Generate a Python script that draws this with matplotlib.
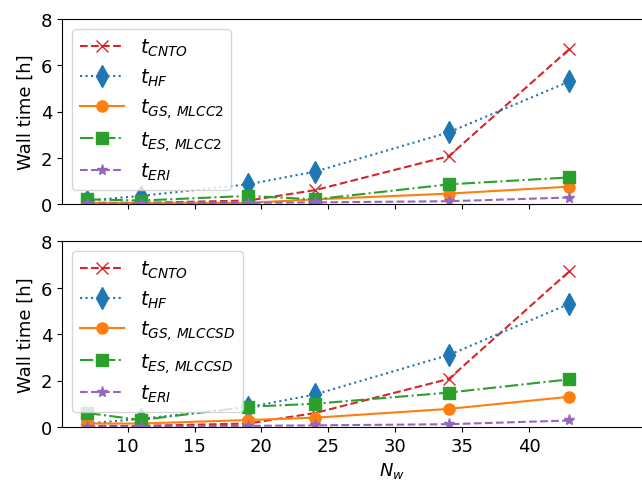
import matplotlib
matplotlib.use('Agg')
import matplotlib.pyplot as plt

# water count on the x axis
n_w = [7, 11, 19, 24, 34, 43]

# wall times [h]
t_cnto = [0.05, 0.05, 0.15, 0.6, 2.07, 6.7]
t_hf = [0.15, 0.35, 0.85, 1.4, 3.1, 5.3]
t_eri = [0.02, 0.02, 0.05, 0.07, 0.12, 0.28]

t_gs_mlcc2 = [0.05, 0.05, 0.05, 0.2, 0.45, 0.75]
t_es_mlcc2 = [0.2, 0.15, 0.35, 0.2, 0.85, 1.15]

t_gs_mlccsd = [0.15, 0.15, 0.3, 0.4, 0.78, 1.3]
t_es_mlccsd = [0.6, 0.3, 0.87, 1.0, 1.48, 2.05]

panels = [
    ('MLCC2', t_gs_mlcc2, t_es_mlcc2),
    ('MLCCSD', t_gs_mlccsd, t_es_mlccsd),
]

plt.rcParams['font.size'] = 13

fig = plt.figure(figsize=(6.42, 4.81), dpi=100)
# axes run past the right edge of the figure, as in the cropped original
ax_top = fig.add_axes([62/642, 1-205/481, 660/642, 185/481])
ax_bot = fig.add_axes([62/642, 1-428/481, 660/642, 186/481])

for ax, (method, gs, es) in zip([ax_top, ax_bot], panels):
    ax.plot(n_w, t_cnto, '--x', color='tab:red', ms=8, label=r'$t_{CNTO}$')
    ax.plot(n_w, t_hf, ':d', color='tab:blue', ms=11, label=r'$t_{HF}$')
    ax.plot(n_w, gs, '-o', color='tab:orange', ms=8, label=r'$t_{GS,\,%s}$' % method)
    ax.plot(n_w, es, '-.s', color='tab:green', ms=8, label=r'$t_{ES,\,%s}$' % method)
    ax.plot(n_w, t_eri, '--*', color='tab:purple', ms=8, label=r'$t_{ERI}$')
    ax.set_ylim(0, 8)
    ax.set_yticks([0, 2, 4, 6, 8])
    ax.set_xlim(5.1, 54.4)
    ax.set_xticks([10, 15, 20, 25, 30, 35, 40])
    ax.set_ylabel('Wall time [h]')
    ax.legend(loc='upper left', fontsize=14, handlelength=2.3, labelspacing=0.44)
    ax.spines['right'].set_visible(False)

ax_top.tick_params(labelbottom=False)
ax_bot.set_xlabel(r'$N_w$')

plt.savefig('out.png', dpi=100)
